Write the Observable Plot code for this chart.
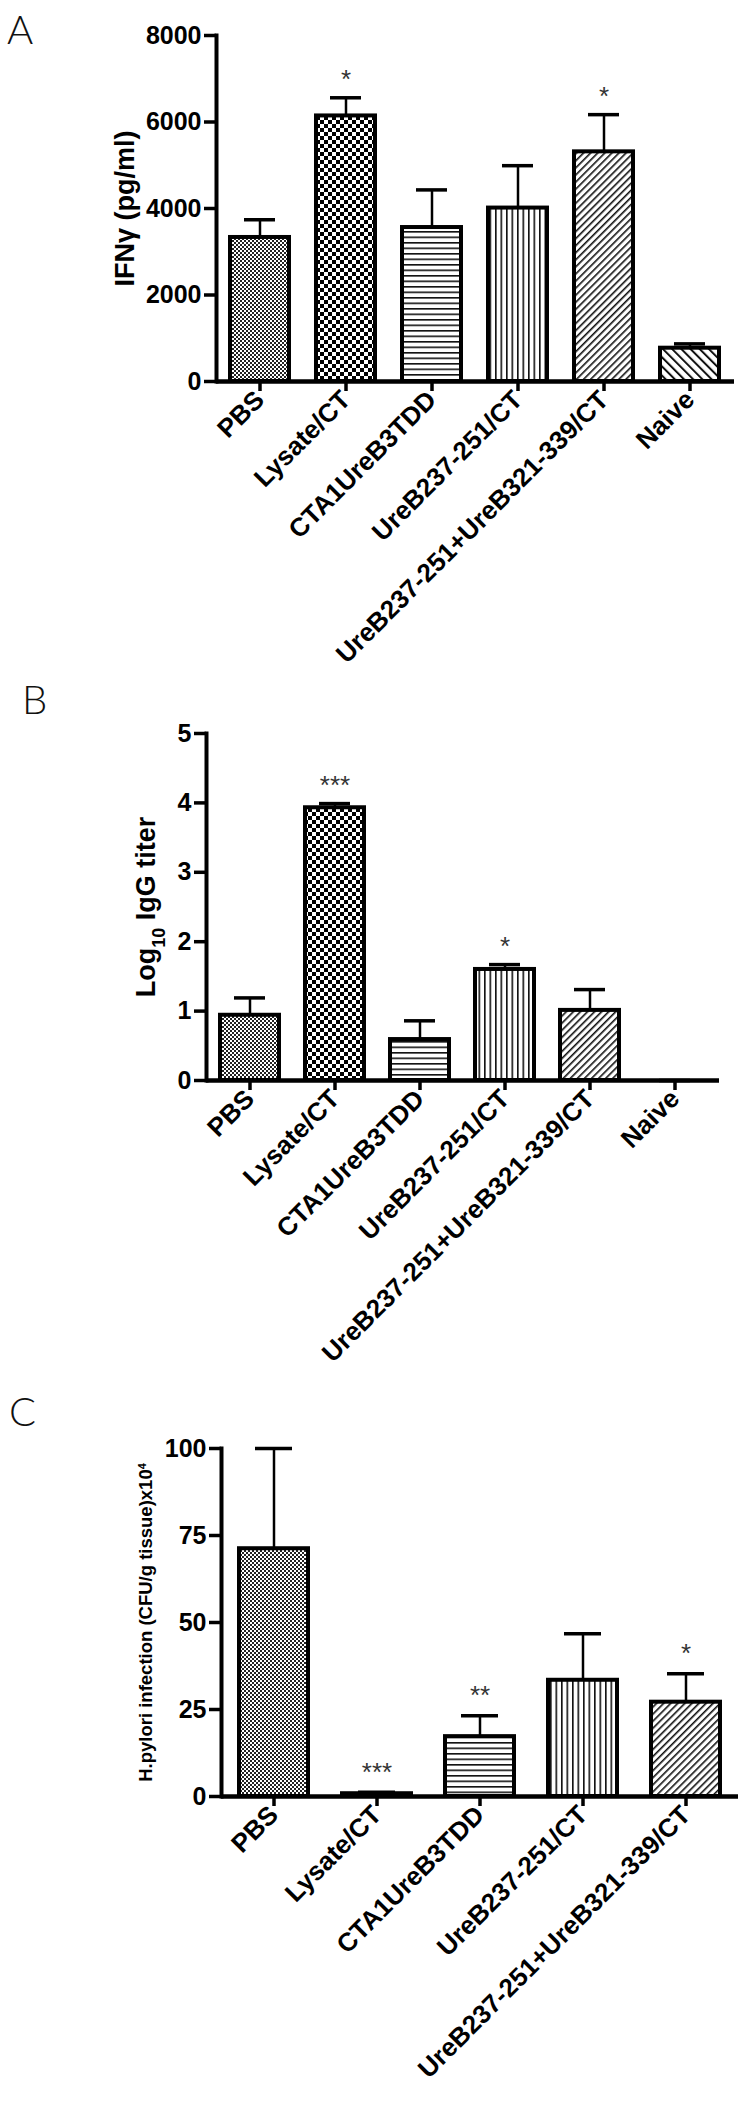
<!DOCTYPE html>
<html>
<head>
<meta charset="utf-8">
<script src="https://cdn.jsdelivr.net/npm/d3@7"></script>
<script src="https://cdn.jsdelivr.net/npm/@observablehq/plot@0.6"></script>
<style>
  html, body { margin: 0; padding: 0; background: #ffffff; }
  #wrap { position: relative; width: 752px; height: 2107px; overflow: hidden; background: #fff; }
  .panel { position: absolute; left: 0; }
  .letter { position: absolute; font-family: Lato, "Open Sans", sans-serif; font-weight: 300; font-size: 40px; line-height: 1; color: #111; }
</style>
</head>
<body>
<svg width="0" height="0" style="position:absolute">
  <defs>
    <pattern id="p-fine" patternUnits="userSpaceOnUse" width="4" height="4">
      <rect width="4" height="4" fill="#fff"/>
      <rect x="0" y="0" width="2" height="2" fill="#222"/>
      <rect x="2" y="2" width="2" height="2" fill="#222"/>
    </pattern>
    <pattern id="p-checker" patternUnits="userSpaceOnUse" width="8" height="8">
      <rect width="8" height="8" fill="#fff"/>
      <rect x="0" y="0" width="4" height="4" fill="#000"/>
      <rect x="4" y="4" width="4" height="4" fill="#000"/>
    </pattern>
    <pattern id="p-hlines" patternUnits="userSpaceOnUse" width="6" height="5.5">
      <rect width="6" height="5.5" fill="#fff"/>
      <rect x="0" y="0" width="6" height="1.6" fill="#111"/>
    </pattern>
    <pattern id="p-vlines" patternUnits="userSpaceOnUse" width="5.5" height="6">
      <rect width="5.5" height="6" fill="#fff"/>
      <rect x="0" y="0" width="1.6" height="6" fill="#111"/>
    </pattern>
    <pattern id="p-diagR" patternUnits="userSpaceOnUse" width="5" height="5" patternTransform="rotate(45)">
      <rect width="5" height="5" fill="#fff"/>
      <rect x="0" y="0" width="1.6" height="5" fill="#111"/>
    </pattern>
    <pattern id="p-diagL" patternUnits="userSpaceOnUse" width="6.5" height="6.5" patternTransform="rotate(-45)">
      <rect width="6.5" height="6.5" fill="#fff"/>
      <rect x="0" y="0" width="2" height="6.5" fill="#111"/>
    </pattern>
  </defs>
</svg>
<div id="wrap">
  <div class="letter" style="left:7px; top:9px;">A</div>
  <div class="letter" style="left:22px; top:679px;">B</div>
  <div class="letter" style="left:9px; top:1391px;">C</div>
</div>
<script>
// ---------- data ----------
const groups = ["PBS", "Lysate/CT", "CTA1UreB3TDD", "UreB237-251/CT", "UreB237-251+UreB321-339/CT", "Naive"];
const groupPatterns = ["url(#p-fine)", "url(#p-checker)", "url(#p-hlines)", "url(#p-vlines)", "url(#p-diagR)", "url(#p-diagL)"];

// Panel A: IFN-gamma (pg/ml)
const ifnMean = [3330, 6140, 3560, 4010, 5310, 770];
const ifnSem  = [410, 420, 870, 980, 860, 100];
const ifnSig  = ["", "*", "", "", "*", ""];
const ifnTicks = [0, 2000, 4000, 6000, 8000];

// Panel B: Log10 IgG titer
const iggMean = [0.94, 3.93, 0.59, 1.60, 1.01, 0];
const iggSem  = [0.25, 0.06, 0.27, 0.07, 0.30, 0];
const iggSig  = ["", "***", "", "*", "", ""];
const iggTicks = [0, 1, 2, 3, 4, 5];

// Panel C: H. pylori infection (CFU/g tissue) x10^4
const groupsC = ["PBS", "Lysate/CT", "CTA1UreB3TDD", "UreB237-251/CT", "UreB237-251+UreB321-339/CT"];
const cfuMean = [71.2, 0.8, 17.2, 33.4, 27.1];
const cfuSem  = [28.8, 0.4, 6.0, 13.4, 8.2];
const cfuSig  = ["", "***", "**", "", "*"];
const cfuTicks = [0, 25, 50, 75, 100];

const patternOf = Object.fromEntries(groups.map((g, i) => [g, groupPatterns[i]]));
const FONT = "'Liberation Sans', Arial, Helvetica, sans-serif";

function panel(cfg) {
  const data = cfg.groups.map((g, i) => ({group: g, mean: cfg.mean[i], sem: cfg.sem[i], sig: cfg.sig[i]}));
  const top = d => d.mean + d.sem;
  const plot = Plot.plot({
    width: 752,
    height: cfg.height,
    marginTop: cfg.marginTop,
    marginBottom: cfg.marginBottom,
    marginLeft: cfg.marginLeft,
    marginRight: cfg.marginRight,
    style: {fontFamily: FONT, fontSize: "25px", fontWeight: "bold", color: "#000", background: "transparent", overflow: "visible"},
    x: {type: "band", domain: cfg.groups, paddingInner: cfg.padding, paddingOuter: cfg.padding / 2},
    y: {domain: [0, cfg.ticks[cfg.ticks.length - 1]], nice: false},
    color: {type: "identity"},
    marks: [
      Plot.barY(data, {x: "group", y: "mean", fill: d => patternOf[d.group], stroke: "#000", strokeWidth: 4}),
      Plot.ruleX(data, {x: "group", y1: "mean", y2: top, stroke: "#000", strokeWidth: 2.5}),
      Plot.tickY(data, {x: "group", y: top, stroke: "#000", strokeWidth: 3.5, insetLeft: cfg.capInset, insetRight: cfg.capInset}),
      Plot.text(data, {x: "group", y: top, text: "sig", dy: cfg.starDy, fontSize: 26, fontWeight: "normal", fill: "#333"}),
      Plot.ruleY([0], {stroke: "#000", strokeWidth: 4.5}),
      Plot.frame({anchor: "left", stroke: "#000", strokeWidth: 4}),
      Plot.axisY({ticks: cfg.ticks, tickFormat: d => String(d), tickSize: 12, tickPadding: 3, strokeWidth: 3.5, label: null, fontSize: 25}),
      Plot.axisX({tickSize: 10, tickPadding: 4, tickRotate: -45, strokeWidth: 3.5, label: null, fontSize: 26}),
      Plot.text([cfg.title], {frameAnchor: "left", textAnchor: "middle", lineAnchor: "middle", rotate: -90, dx: cfg.titleDx, fontSize: cfg.titleSize, fontWeight: "bold", fill: "#000"})
    ]
  });
  return plot;
}

const wrap = document.getElementById("wrap");
function place(el, top) {
  el.classList.add("panel");
  el.style.top = top + "px";
  wrap.appendChild(el);
}

const A = panel({
  groups, mean: ifnMean, sem: ifnSem, sig: ifnSig, ticks: ifnTicks,
  height: 700, marginTop: 35, marginBottom: 319, marginLeft: 216, marginRight: 18,
  padding: 0.31, capInset: 14, starDy: -18,
  title: "IFNγ (pg/ml)", titleDx: -91, titleSize: 27
});
place(A, 0);

const B = panel({
  groups, mean: iggMean, sem: iggSem, sig: iggSig, ticks: iggTicks,
  height: 690, marginTop: 33, marginBottom: 310, marginLeft: 206, marginRight: 33,
  padding: 0.30, capInset: 14, starDy: -18,
  title: "LOGTITLE", titleDx: -60, titleSize: 27
});
place(B, 700);

const C = panel({
  groups: groupsC, mean: cfuMean, sem: cfuSem, sig: cfuSig, ticks: cfuTicks,
  height: 717, marginTop: 58, marginBottom: 311, marginLeft: 221, marginRight: 14,
  padding: 0.33, capInset: 16, starDy: -20,
  title: "CFUTITLE", titleDx: -75, titleSize: 18.5
});
place(C, 1390);

// rich text for titles with sub/superscripts
function richTitle(svg, marker, parts) {
  svg.querySelectorAll("text").forEach(t => {
    if (t.textContent === marker) {
      t.textContent = "";
      for (const p of parts) {
        const ts = document.createElementNS("http://www.w3.org/2000/svg", "tspan");
        ts.textContent = p.text;
        if (p.shift) ts.setAttribute("baseline-shift", p.shift);
        if (p.size) ts.setAttribute("font-size", p.size);
        t.appendChild(ts);
      }
    }
  });
}
richTitle(B, "LOGTITLE", [{text: "Log"}, {text: "10", shift: "sub", size: 18}, {text: " IgG titer"}]);
richTitle(C, "CFUTITLE", [{text: "H.pylori infection (CFU/g tissue)x10"}, {text: "4", shift: "super", size: 11}]);
</script>
</body>
</html>
